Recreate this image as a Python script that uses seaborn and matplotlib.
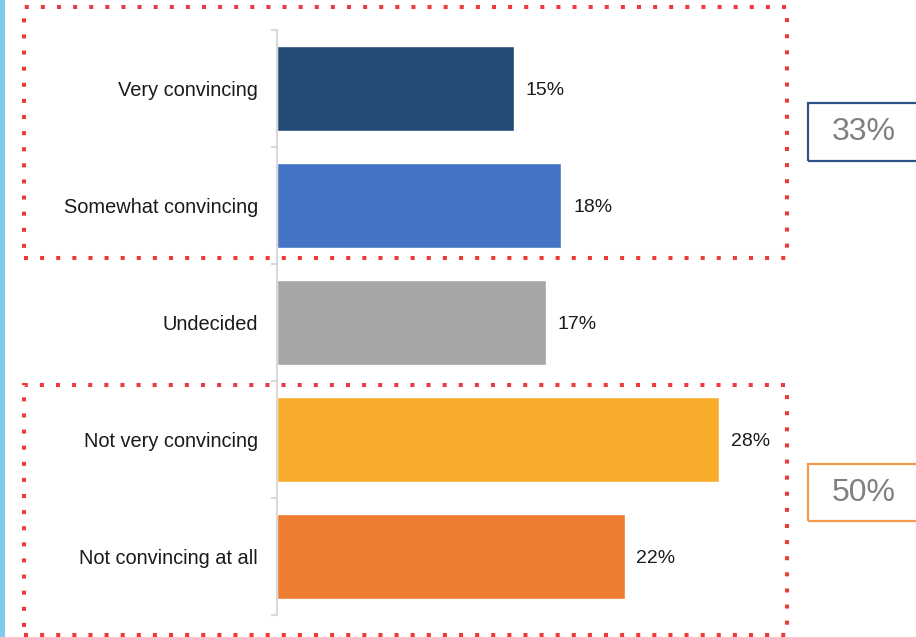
import numpy as np
import matplotlib
matplotlib.use("Agg")
import matplotlib.pyplot as plt
from matplotlib.patches import Rectangle
import seaborn as sns

# Survey responses: how convincing the argument is
categories = ["Very convincing", "Somewhat convincing", "Undecided",
              "Not very convincing", "Not convincing at all"]
shares = [15, 18, 17, 28, 22]
bar_colors = ["#234b76", "#4472c4", "#a6a6a6", "#f9ac2c", "#ed7d31"]

# Grouped totals: convincing vs. not convincing
convinced_total = shares[0] + shares[1]
unconvinced_total = shares[3] + shares[4]

sns.set_theme(style="white")
plt.rcParams["font.family"] = ["Liberation Sans", "DejaVu Sans"]

W, H = 916, 637
fig = plt.figure(figsize=(W / 100, H / 100), dpi=100)
ax = fig.add_axes([277 / W, 1 - 615 / H, 474 / W, 585 / H])

sns.barplot(x=shares, y=categories, hue=categories, palette=bar_colors,
            legend=False, width=0.72, saturation=1, orient="h", ax=ax)

ax.set_xlim(0, 30)
ax.set_ylim(len(categories) - 0.5, -0.5)
ax.set_xlabel("")
ax.set_ylabel("")
ax.set_xticks([])

for c in ax.containers:
    texts = ax.bar_label(c, labels=[f"{v:.0f}%" for v in c.datavalues],
                         padding=8.5, fontsize=14, color="#1a1a1a")
    for t in texts:
        t.set_va("center_baseline")

for s in ["top", "right", "bottom"]:
    ax.spines[s].set_visible(False)
ax.spines["left"].set_color("#d9d9d9")
ax.spines["left"].set_linewidth(1.5)

ax.set_yticks(np.arange(-0.5, len(categories)), minor=True)
ax.tick_params(axis="y", which="major", length=0, pad=13.7, labelsize=14.4,
               labelcolor="#1a1a1a")
ax.tick_params(axis="y", which="minor", length=4.5, width=1.5, color="#d9d9d9", left=True)


def fig_rect(x0, y0, x1, y1, **kw):
    # rectangle given in pixel coordinates measured from the top-left corner
    r = Rectangle((x0 / W, 1 - y1 / H), (x1 - x0) / W, (y1 - y0) / H,
                  transform=fig.transFigure, fill=False, **kw)
    fig.add_artist(r)
    return r


# Left accent stripe
fig.add_artist(Rectangle((0, 0), 4.5 / W, 1, transform=fig.transFigure,
                         color="#7fcbea", lw=0))

# Dotted group outlines
dot = dict(edgecolor="#f03a3a", linewidth=2.9, linestyle=(0, (1, 3)),
           capstyle="butt", joinstyle="miter")
fig_rect(24, 7, 787, 258, **dot)
fig_rect(24, 385, 787, 635, **dot)

# Total boxes
fig_rect(808, 103, 930, 161, edgecolor="#2f5287", linewidth=1.6)
fig_rect(808, 464, 930, 521, edgecolor="#f59a4c", linewidth=1.6)
fig.text(864 / W, 1 - 132 / H, f"{convinced_total}%", fontsize=23,
         color="#808080", ha="center", va="center")
fig.text(864 / W, 1 - 493 / H, f"{unconvinced_total}%", fontsize=23,
         color="#808080", ha="center", va="center")

fig.savefig("out.png", dpi=100)
